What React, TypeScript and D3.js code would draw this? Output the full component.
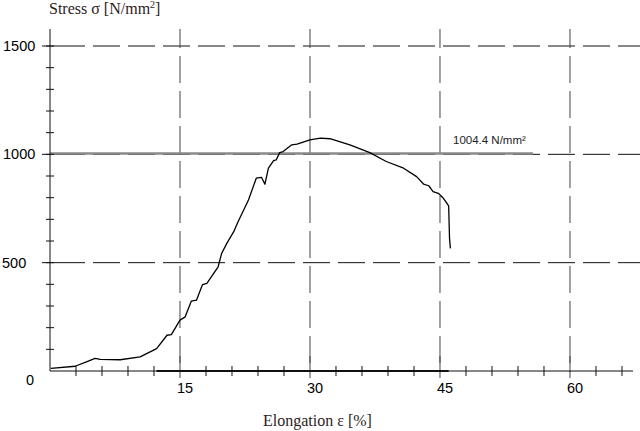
import * as d3 from "d3";

// stress-strain curve (elongation %, stress N/mm²)
const strain = [
  0.1, 2.9, 4.2, 5.2, 5.8, 8.1, 10.4, 12.3, 13.5, 14.0, 15.0, 15.6, 16.3, 16.9,
  17.6, 18.1, 19.4, 19.8, 20.4, 21.2, 21.7, 22.9, 23.8, 24.4, 24.8, 25.2, 25.8,
  26.1, 26.5, 26.9, 27.9, 28.5, 30.0, 31.2, 32.3, 34.6, 36.9, 38.8, 40.8, 42.3,
  43.1, 43.7, 44.2, 44.8, 45.4, 46.0, 46.1, 46.2,
];
const stress = [
  12, 22, 42, 58, 54, 52, 65, 103, 165, 168, 235, 250, 322, 327, 399, 404, 481,
  542, 589, 643, 689, 789, 890, 894, 862, 936, 971, 974, 1008, 1013, 1044, 1047,
  1067, 1075, 1072, 1044, 1008, 967, 936, 897, 863, 855, 828, 820, 797, 762, 612,
  566,
];
// thicker piece lying on the zero line
const baseStrain = [12.3, 46.0];

const yieldValue = 1004.4;
const yieldLabel = "1004.4 N/mm²";
const xMajor = [15, 30, 45, 60];
const yMajor = [500, 1000, 1500];
const xMinor = d3.range(3, 67, 3);
const yMinor = d3.range(100, 1600, 100);

const W = 640;
const H = 431;

export default function App() {
  const x = d3.scaleLinear().domain([0, 67.27]).range([50, 633]);
  const y = d3.scaleLinear().domain([0, 1500]).range([371, 46]);
  const top = 29;

  const pts: [number, number][] = strain.map((s, i) => [s, stress[i]]);
  const line = d3
    .line<[number, number]>()
    .x((d) => x(d[0]))
    .y((d) => y(d[1]));

  return (
    <svg
      width={W}
      height={H}
      style={{ position: "absolute", left: 0, top: 0, background: "#fff" }}
    >
      {/* horizontal dashed grid */}
      {yMajor.map((v) => (
        <g key={"h" + v}>
          <line x1={42} x2={58} y1={y(v)} y2={y(v)} stroke="#111" />
          <line
            x1={58}
            x2={640}
            y1={y(v)}
            y2={y(v)}
            stroke="#111"
            strokeDasharray="27,8"
          />
        </g>
      ))}
      {/* vertical dashed grid */}
      {xMajor.map((v) => (
        <g key={"v" + v}>
          <line
            x1={x(v)}
            x2={x(v)}
            y1={top}
            y2={372}
            stroke="#444"
            strokeDasharray="27,8"
            strokeDashoffset={8}
          />
          <line x1={x(v)} x2={x(v)} y1={356} y2={378} stroke="#444" />
        </g>
      ))}

      {/* yield line */}
      <line
        x1={50}
        x2={533}
        y1={y(yieldValue)}
        y2={y(yieldValue)}
        stroke="#8a8a8a"
        strokeWidth={2.5}
      />
      <text
        x={453}
        y={143.5}
        fontFamily="Liberation Sans, Arial, sans-serif"
        fontSize={11.5}
        fill="#222"
      >
        {yieldLabel}
      </text>

      {/* axes */}
      <line x1={50} x2={50} y1={top} y2={371} stroke="#111" />
      <line x1={50} x2={633} y1={371} y2={371} stroke="#111" />
      <line
        x1={x(baseStrain[0])}
        x2={x(baseStrain[1])}
        y1={371}
        y2={371}
        stroke="#111"
        strokeWidth={2}
      />
      {yMinor.map((v) => (
        <line key={"ym" + v} x1={46} x2={54} y1={y(v)} y2={y(v)} stroke="#111" />
      ))}
      {xMinor
        .filter((v) => v % 15 !== 0)
        .map((v) => (
          <line
            key={"xm" + v}
            x1={x(v)}
            x2={x(v)}
            y1={366}
            y2={376}
            stroke="#111"
          />
        ))}

      {/* curve */}
      <path
        d={line(pts) || ""}
        fill="none"
        stroke="#000"
        strokeWidth={1.3}
        strokeLinejoin="round"
      />

      {/* tick labels */}
      <g
        fontFamily="Liberation Sans, Arial, sans-serif"
        fontSize={14.5}
        fill="#000"
      >
        {yMajor.map((v) => (
          <text key={"yl" + v} x={v >= 1000 ? 3 : 2} y={y(v) + 5}>
            {v}
          </text>
        ))}
        <text x={30} y={385} textAnchor="middle">
          0
        </text>
        {xMajor.map((v) => (
          <text key={"xl" + v} x={x(v) + 5} y={393} textAnchor="middle">
            {v}
          </text>
        ))}
      </g>

      {/* axis titles */}
      <text
        x={49}
        y={14}
        fontFamily="Liberation Serif, Times New Roman, serif"
        fontSize={16}
        fill="#2e1c1c"
      >
        Stress σ [N/mm
        <tspan fontSize={10} dy={-6}>
          2
        </tspan>
        <tspan dy={6}>]</tspan>
      </text>
      <text
        x={263}
        y={426}
        fontFamily="Liberation Serif, Times New Roman, serif"
        fontSize={16}
        fill="#2e1c1c"
      >
        Elongation ε [%]
      </text>
    </svg>
  );
}
